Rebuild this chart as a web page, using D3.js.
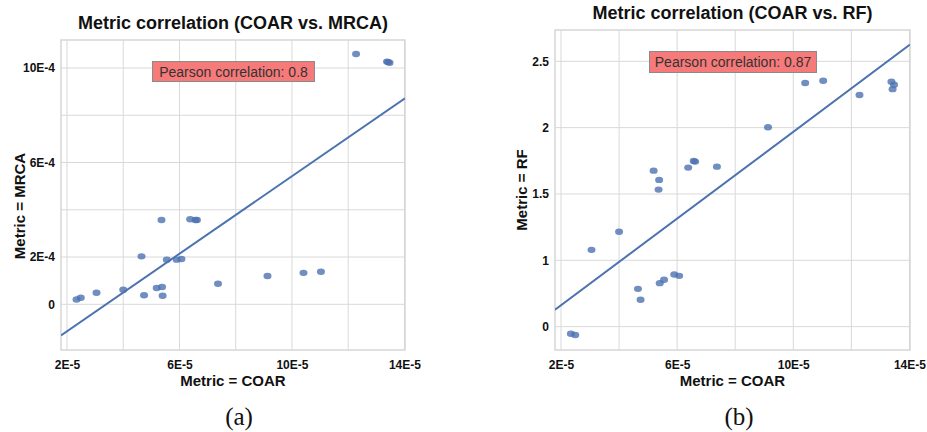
<!DOCTYPE html>
<html>
<head>
<meta charset="utf-8">
<script src="https://cdn.jsdelivr.net/npm/d3@7"></script>
<style>
  body { margin: 0; background: #fff; }
  svg text { font-family: "Liberation Sans", Arial, sans-serif; }
  svg text.caption { font-family: "Liberation Serif", "DejaVu Serif", serif; }
</style>
</head>
<body>
<div id="chart"></div>
<script>
var width = 927;
var height = 432;

// COAR metric (x, shared by both panels)
var coar = [2.34e-5, 2.49e-5, 3.05e-5, 4.0e-5, 4.65e-5, 4.74e-5, 5.19e-5, 5.36e-5, 5.38e-5, 5.40e-5,
            5.55e-5, 5.90e-5, 6.07e-5, 6.38e-5, 6.57e-5, 6.62e-5, 7.37e-5, 9.13e-5, 10.41e-5, 11.03e-5,
            12.28e-5, 13.38e-5, 13.42e-5, 13.47e-5];
// MRCA metric (panel a)
var mrca = [0.20e-4, 0.28e-4, 0.49e-4, 0.62e-4, 2.03e-4, 0.38e-4, 0.69e-4, 3.57e-4, 0.73e-4, 0.36e-4,
            1.89e-4, 1.89e-4, 1.92e-4, 3.60e-4, 3.57e-4, 3.57e-4, 0.87e-4, 1.20e-4, 1.33e-4, 1.38e-4,
            10.59e-4, 10.27e-4, 10.25e-4, 10.22e-4];
// RF metric (panel b)
var rf = [0.447, 0.437, 1.079, 1.215, 0.785, 0.703, 1.676, 1.533, 1.606, 0.828,
          0.853, 0.893, 0.883, 1.699, 1.749, 1.744, 1.706, 2.003, 2.337, 2.354,
          2.246, 2.346, 2.29, 2.324];

// fitted lines (y = slope * x + intercept)
var fitMrca = {slope: 8.2, intercept: -2.78e-4};
var fitRf = {slope: 16350, intercept: 0.334};

var xTicks = [2e-5, 4e-5, 6e-5, 8e-5, 10e-5, 12e-5, 14e-5];
var xTickLabels = ["2E-5", "", "6E-5", "", "10E-5", "", "14E-5"];
var mrcaTicks = [0, 2e-4, 4e-4, 6e-4, 8e-4, 10e-4];
var mrcaTickLabels = ["0", "2E-4", "", "6E-4", "", "10E-4"];
var rfTicks = [0.5, 1, 1.5, 2, 2.5];
var rfTickLabels = ["0", "1", "1.5", "2", "2.5"];

var svg = d3.select("#chart").append("svg")
  .attr("width", width)
  .attr("height", height);

var draw_panel = function(opt){
  var x = d3.scaleLinear().domain(opt.xDomain).range([opt.left, opt.right]);
  var y = d3.scaleLinear().domain(opt.yDomain).range([opt.bottom, opt.top]);
  var g = svg.append("g");

  // grid
  g.selectAll("line.vgrid").data(xTicks).enter().append("line")
    .attr("x1", function(d){ return x(d); }).attr("x2", function(d){ return x(d); })
    .attr("y1", opt.top).attr("y2", opt.bottom)
    .attr("stroke", "#d9d9d9").attr("stroke-width", 1);
  g.selectAll("line.hgrid").data(opt.yTicks).enter().append("line")
    .attr("x1", opt.left).attr("x2", opt.right)
    .attr("y1", function(d){ return y(d); }).attr("y2", function(d){ return y(d); })
    .attr("stroke", "#d9d9d9").attr("stroke-width", 1);

  // frame
  g.append("rect")
    .attr("x", opt.left).attr("y", opt.top)
    .attr("width", opt.right - opt.left).attr("height", opt.bottom - opt.top)
    .attr("fill", "none").attr("stroke", "#d6d6d6").attr("stroke-width", 1.5);

  // axes (labels only)
  var xAxis = d3.axisBottom(x).tickValues(xTicks).tickSize(0).tickPadding(10)
    .tickFormat(function(d, i){ return xTickLabels[i]; });
  var xg = g.append("g").attr("transform", "translate(0," + opt.bottom + ")").call(xAxis);
  var yAxis = d3.axisLeft(y).tickValues(opt.yTicks).tickSize(0).tickPadding(6)
    .tickFormat(function(d, i){ return opt.yTickLabels[i]; });
  var yg = g.append("g").attr("transform", "translate(" + opt.left + ",0)").call(yAxis);
  [xg, yg].forEach(function(a){
    a.select(".domain").remove();
    a.selectAll("text")
      .attr("font-size", 12).attr("font-weight", "bold").attr("fill", "#111");
  });

  // fit line
  var clipId = "clip" + opt.name;
  g.append("clipPath").attr("id", clipId).append("rect")
    .attr("x", opt.left).attr("y", opt.top)
    .attr("width", opt.right - opt.left).attr("height", opt.bottom - opt.top);
  var xd = x.domain();
  g.append("line")
    .attr("clip-path", "url(#" + clipId + ")")
    .attr("x1", x(xd[0])).attr("y1", y(opt.fit.slope * xd[0] + opt.fit.intercept))
    .attr("x2", x(xd[1])).attr("y2", y(opt.fit.slope * xd[1] + opt.fit.intercept))
    .attr("stroke", "#4c72b0").attr("stroke-width", 2);

  // points
  g.selectAll("ellipse").data(opt.ys).enter().append("ellipse")
    .attr("cx", function(d, i){ return x(coar[i]); })
    .attr("cy", function(d){ return y(d); })
    .attr("rx", 4).attr("ry", 3.2)
    .attr("fill", "#4c72b0").attr("fill-opacity", 0.8);

  // pearson box
  var bx = g.append("g");
  bx.append("rect")
    .attr("x", opt.box[0]).attr("y", opt.box[1]).attr("width", opt.box[2]).attr("height", opt.box[3])
    .attr("fill", "#f77a7a").attr("stroke", "#8a8a8a").attr("stroke-width", 1);
  bx.append("text")
    .attr("x", opt.box[0] + opt.box[2] / 2).attr("y", opt.box[1] + opt.box[3] / 2 + 5)
    .attr("text-anchor", "middle").attr("font-size", 14).attr("fill", "#333")
    .text(opt.pearson);

  // titles
  g.append("text")
    .attr("x", (opt.left + opt.right) / 2).attr("y", opt.titleY)
    .attr("text-anchor", "middle").attr("font-size", 18).attr("font-weight", "bold").attr("fill", "#111")
    .text(opt.title);
  g.append("text")
    .attr("x", (opt.left + opt.right) / 2).attr("y", 386)
    .attr("text-anchor", "middle").attr("font-size", 15).attr("font-weight", "bold").attr("fill", "#111")
    .text("Metric = COAR");
  g.append("text")
    .attr("transform", "translate(" + opt.yLabelX + "," + opt.yLabelY + ") rotate(-90)")
    .attr("text-anchor", "middle").attr("font-size", 15).attr("font-weight", "bold").attr("fill", "#111")
    .text(opt.yLabel);

  // caption
  g.append("text")
    .attr("class", "caption")
    .attr("x", opt.capX).attr("y", 425)
    .attr("text-anchor", "middle").attr("font-size", 25).attr("fill", "#111")
    .text(opt.caption);
};

draw_panel({
  name: "a", left: 61, right: 405, top: 40, bottom: 350,
  xDomain: [1.787e-5, 14.02e-5], yDomain: [-1.934e-4, 11.185e-4],
  yTicks: mrcaTicks, yTickLabels: mrcaTickLabels, ys: mrca, fit: fitMrca,
  box: [152.5, 61.5, 162, 20], pearson: "Pearson correlation: 0.8",
  title: "Metric correlation (COAR vs. MRCA)", titleY: 29,
  yLabel: "Metric = MRCA", yLabelX: 25, yLabelY: 206,
  caption: "(a)", capX: 239
});

draw_panel({
  name: "b", left: 555, right: 910, top: 30, bottom: 350,
  xDomain: [1.793e-5, 14.02e-5], yDomain: [0.324, 2.736],
  yTicks: rfTicks, yTickLabels: rfTickLabels, ys: rf, fit: fitRf,
  box: [649.5, 51.5, 167, 21], pearson: "Pearson correlation: 0.87",
  title: "Metric correlation (COAR vs. RF)", titleY: 19,
  yLabel: "Metric = RF", yLabelX: 527, yLabelY: 190,
  caption: "(b)", capX: 739
});
</script>
</body>
</html>
